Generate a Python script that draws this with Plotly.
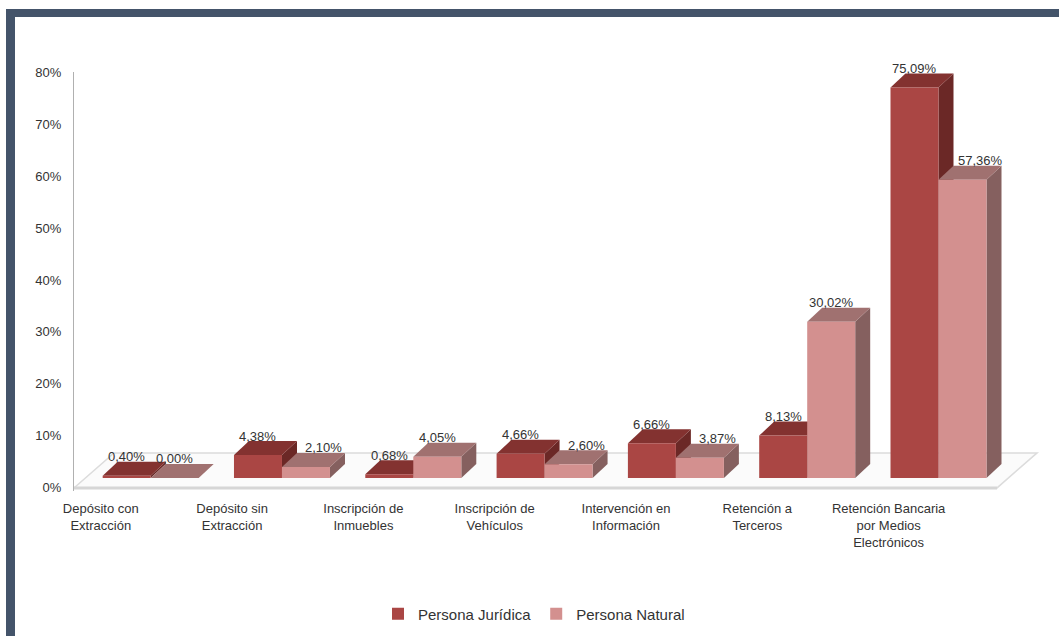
import plotly.graph_objects as go

# ---- data ----
categories = [
    "Depósito con\nExtracción",
    "Depósito sin\nExtracción",
    "Inscripción de\nInmuebles",
    "Inscripción de\nVehículos",
    "Intervención en\nInformación",
    "Retención a\nTerceros",
    "Retención Bancaria\npor Medios\nElectrónicos",
]
persona_juridica = [0.40, 4.38, 0.68, 4.66, 6.66, 8.13, 75.09]
persona_natural = [0.00, 2.10, 4.05, 2.60, 3.87, 30.02, 57.36]
series_names = ["Persona Jurídica", "Persona Natural"]
y_ticks = [0, 10, 20, 30, 40, 50, 60, 70, 80]
y_tick_labels = ["0%", "10%", "20%", "30%", "40%", "50%", "60%", "70%", "80%"]

# ---- styling / geometry ----
FIG_W, FIG_H = 1059, 636
M_L, M_R, M_T, M_B = 74, 19, 72, 145
X_RANGE = [-0.584, 6.773]
Y_RANGE = [-0.6, 80]
PX_X = (FIG_W - M_L - M_R) / (X_RANGE[1] - X_RANGE[0])   # pixels per category unit
PX_Y = (FIG_H - M_T - M_B) / (Y_RANGE[1] - Y_RANGE[0])   # pixels per percent

BAR_W = 48 / PX_X          # width of one bar's front face
BAR_DX = 15 / PX_X         # 3-D depth of the bars, horizontal
BAR_DY = 14 / PX_Y         # 3-D depth of the bars, vertical
BASE = 10 / PX_Y           # bars stand a little behind the floor's front edge
FLOOR_DX = 40 / PX_X
FLOOR_DY = 35 / PX_Y
FLOOR_X0 = -0.5 - 0.084
FLOOR_X1 = len(categories) - 0.5 - 0.084 + 0.03
LABEL_OFFSET = -0.38       # category labels sit left of their bar group

JUR = dict(front="#AA4644", top="#833230", side="#6B2826")
NAT = dict(front="#D3908F", top="#A07170", side="#85605F")
FRAME = "#44546A"
TEXT = "#333333"
FONT = "Liberation Sans, Arial, sans-serif"


def px_to_paper(px, py):
    return (px - M_L) / (FIG_W - M_L - M_R), (FIG_H - M_B - py) / (FIG_H - M_T - M_B)


def poly(points):
    return "M " + " L ".join(f"{x},{y}" for x, y in points) + " Z"


shapes = []

# floor of the 3-D plot
shapes.append(dict(
    type="path", xref="x", yref="y", layer="below",
    path=poly([(FLOOR_X0, 0), (FLOOR_X1, 0),
               (FLOOR_X1 + FLOOR_DX, FLOOR_DY), (FLOOR_X0 + FLOOR_DX, FLOOR_DY)]),
    fillcolor="#FBFBFB", line=dict(color="#DCDCDC", width=1.5),
))
shapes.append(dict(
    type="line", xref="x", yref="y", layer="below",
    x0=FLOOR_X0, x1=FLOOR_X1, y0=0, y1=0,
    line=dict(color="#D6D6D6", width=3),
))


def box_faces(x0, x1, top, colors):
    side = poly([(x1, BASE), (x1, top), (x1 + BAR_DX, top + BAR_DY), (x1 + BAR_DX, BASE + BAR_DY)])
    lid = poly([(x0, top), (x1, top), (x1 + BAR_DX, top + BAR_DY), (x0 + BAR_DX, top + BAR_DY)])
    return [
        dict(type="path", xref="x", yref="y", layer="below", path=side,
             fillcolor=colors["side"], line=dict(width=0)),
        dict(type="path", xref="x", yref="y", layer="below", path=lid,
             fillcolor=colors["top"], line=dict(width=0)),
    ]


# side and top faces (front faces are the bar traces, drawn above these)
for i, (vj, vn) in enumerate(zip(persona_juridica, persona_natural)):
    shapes += box_faces(i - BAR_W, i, BASE + vj, JUR)
    shapes += box_faces(i, i + BAR_W, BASE + vn, NAT)

# slate frame along the top and left edge
fx0, fy0 = px_to_paper(6, 9)
fx1, fy1 = px_to_paper(FIG_W + 5, 17)
shapes.append(dict(type="rect", xref="paper", yref="paper", layer="above",
                   x0=fx0, x1=fx1, y0=fy1, y1=fy0, fillcolor=FRAME, line=dict(width=0)))
lx0, _ = px_to_paper(6, 0)
lx1, ly1 = px_to_paper(15, FIG_H + 5)
shapes.append(dict(type="rect", xref="paper", yref="paper", layer="above",
                   x0=lx0, x1=lx1, y0=ly1, y1=fy0, fillcolor=FRAME, line=dict(width=0)))

x_idx = list(range(len(categories)))
fig = go.Figure()
fig.add_trace(go.Bar(
    x=x_idx, y=persona_juridica, base=BASE, width=BAR_W, offset=-BAR_W,
    name=series_names[0], marker=dict(color=JUR["front"], line=dict(width=0)),
    hoverinfo="skip",
))
fig.add_trace(go.Bar(
    x=x_idx, y=persona_natural, base=BASE, width=BAR_W, offset=0,
    name=series_names[1], marker=dict(color=NAT["front"], line=dict(width=0)),
    hoverinfo="skip",
))


def fmt(v):
    return f"{v:.2f}".replace(".", ",") + "%"


annotations = []
for i, (vj, vn) in enumerate(zip(persona_juridica, persona_natural)):
    annotations.append(dict(
        x=i - BAR_W / 2, y=BASE + vj + BAR_DY, xref="x", yref="y",
        text=fmt(vj), showarrow=False, yanchor="middle", yshift=5,
        font=dict(size=13, color=TEXT, family=FONT),
    ))
    annotations.append(dict(
        x=i + BAR_W / 2, y=BASE + vn + BAR_DY, xref="x", yref="y",
        text=fmt(vn), showarrow=False, yanchor="middle", yshift=5,
        xshift=18 if vj - vn > 1 else 0,
        font=dict(size=13, color=TEXT, family=FONT),
    ))

leg_x, leg_y = px_to_paper(534, 614)

fig.update_layout(
    width=FIG_W, height=FIG_H,
    margin=dict(l=M_L, r=M_R, t=M_T, b=M_B, autoexpand=False),
    paper_bgcolor="white", plot_bgcolor="rgba(0,0,0,0)",
    barmode="overlay", hovermode=False,
    font=dict(family=FONT, color=TEXT, size=13),
    shapes=shapes, annotations=annotations,
    showlegend=True,
    legend=dict(orientation="h", x=leg_x, y=leg_y, xanchor="center", yanchor="middle",
                font=dict(size=15, color=TEXT, family=FONT), traceorder="normal",
                itemwidth=30),
    xaxis=dict(
        range=X_RANGE, showgrid=False, zeroline=False, showline=False,
        tickvals=[i + LABEL_OFFSET for i in x_idx],
        ticktext=[c.replace("\n", "<br>") for c in categories],
        tickfont=dict(size=13, color=TEXT, family=FONT),
        ticks="", ticklabelstandoff=8, automargin=False,
    ),
    yaxis=dict(
        range=Y_RANGE, showgrid=False, zeroline=False,
        showline=True, linecolor="#B0B0B0", linewidth=1,
        tickvals=y_ticks, ticktext=y_tick_labels,
        tickfont=dict(size=13, color=TEXT, family=FONT),
        ticks="", ticklabelstandoff=9, automargin=False,
    ),
)

fig.write_html("out.html")
